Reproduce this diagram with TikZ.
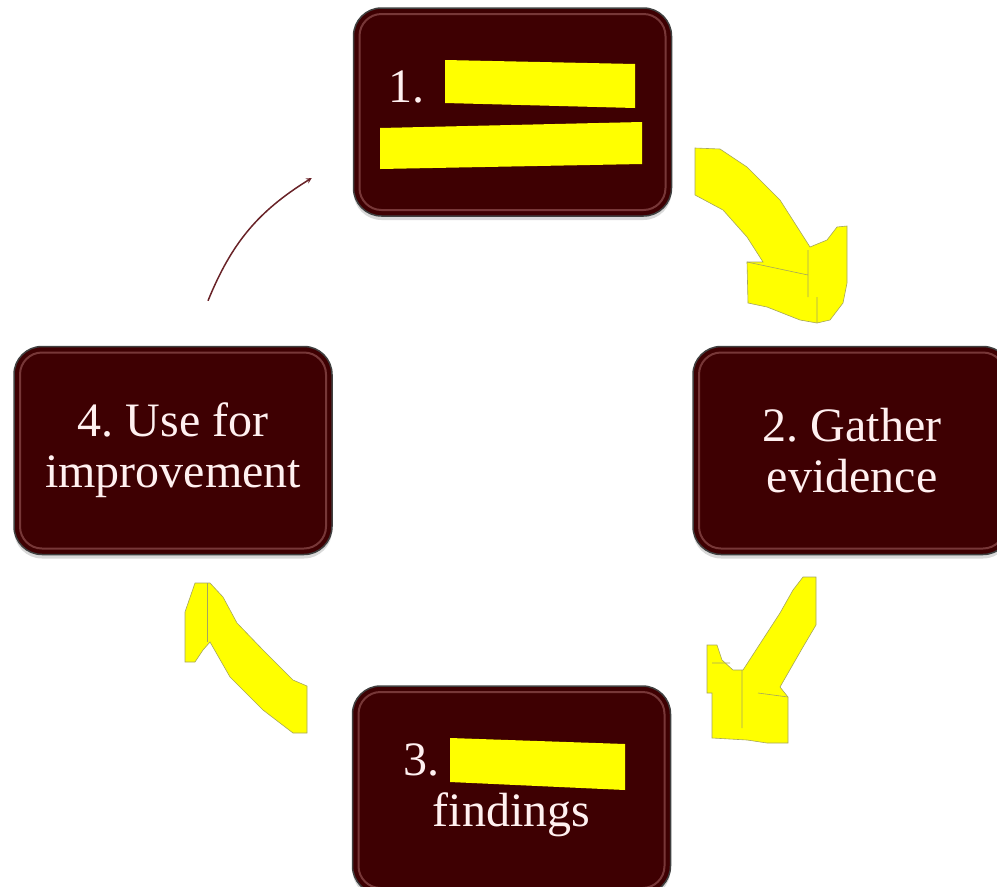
\documentclass[tikz,border=0pt]{standalone}
\usepackage{fontspec}
\setmainfont{Liberation Serif}
\usepackage{tikz}
\usetikzlibrary{positioning,shadows}
\frenchspacing

\definecolor{boxred}{RGB}{62,0,2}
\definecolor{glossred}{RGB}{150,85,85}
\definecolor{arrowred}{RGB}{105,35,40}
\definecolor{hiliteyellow}{RGB}{255,255,0}
\definecolor{hiliteline}{RGB}{165,165,95}

\tikzset{
    stepbox/.style={draw=black!75,
        line width=1.5pt,
        fill=boxred,
        rounded corners=28pt,
        minimum width=318pt,
        minimum height=208pt,
        text=white!94!red,
        align=center,
        font=\fontsize{48}{51}\selectfont,
        drop shadow={opacity=0.3, shadow xshift=0pt, shadow yshift=-4pt},
        path picture={
            \draw[glossred, line width=2pt, opacity=0.65, rounded corners=22pt]
                ([shift={(6pt,6pt)}]path picture bounding box.south west) rectangle
                ([shift={(-6pt,-6pt)}]path picture bounding box.north east);
        }
    },
    hilite/.style={fill=hiliteyellow, draw=hiliteline, line width=0.6pt},
    blanking/.style={fill=hiliteyellow}
}

\begin{document}
\begin{tikzpicture}[x=1pt, y=-1pt]

    \useasboundingbox (0,0) rectangle (997,887);
    \clip (0,0) rectangle (997,887);

    % Step 1
    \node [stepbox] (plan) at (512.5,112) {\makebox[248pt][l]{1.}\\\mbox{}};

    % Step 4
    \node [stepbox,
        below left=129pt and 20pt of plan
    ] (improve) {4. Use for\\improvement};

    % Step 2
    \node [stepbox,
        below right=129pt and 20pt of plan
    ] (gather) {2. Gather\\evidence};

    % Step 3
    \node [stepbox,
        below right=130pt and 19pt of improve
    ] (findings) {\makebox[216pt][l]{3.}\\findings};

    % blanked text
    \fill[blanking] (445,60) -- (635,64) -- (635,108) -- (445,103) -- cycle;
    \fill[blanking] (380,128) -- (642,122) -- (642,164) -- (380,169) -- cycle;
    \fill[blanking] (450,738) -- (625,744) -- (625,790) -- (450,782) -- cycle;

    % thin arrow 4 -> 1
    \draw[-stealth, arrowred, line width=1.5pt]
        ([xshift=35pt,yshift=45pt]improve.north) to[bend left=18]
        ([xshift=-41pt,yshift=-66pt]plan.west);

    % yellow arrows
    \draw[hilite] (695,148) -- (720,149) -- (747,167) -- (780,200) -- (810,247)
        -- (827,240) -- (837,227) -- (847,226) -- (847,283) -- (843,303)
        -- (830,320) -- (817,323) -- (800,320) -- (767,307) -- (748,303)
        -- (747,262) -- (763,262) -- (747,237) -- (723,210) -- (695,195) -- cycle;
    \draw[hiliteline, line width=0.6pt] (808,250) -- (808,297)
        (747,262) -- (808,275) (817,297) -- (817,323);

    \draw[hilite] (803,577) -- (816,577) -- (816,625) -- (803,647) -- (780,687)
        -- (788,697) -- (788,743) -- (767,743) -- (747,740) -- (712,738)
        -- (712,693) -- (707,693) -- (707,645) -- (717,645) -- (722,660)
        -- (733,670) -- (743,670) -- (780,613) -- (793,590) -- cycle;
    \draw[hiliteline, line width=0.6pt] (742,670) -- (742,728)
        (712,663) -- (730,663) (758,693) -- (788,697);

    \draw[hilite] (185,612) -- (195,583) -- (210,583) -- (223,597) -- (237,623)
        -- (263,650) -- (293,680) -- (307,686) -- (307,733) -- (293,733)
        -- (263,710) -- (230,677) -- (210,642) -- (203,650) -- (195,662)
        -- (185,662) -- cycle;
    \draw[hiliteline, line width=0.6pt] (207,583) -- (207,642);

\end{tikzpicture}
\end{document}
